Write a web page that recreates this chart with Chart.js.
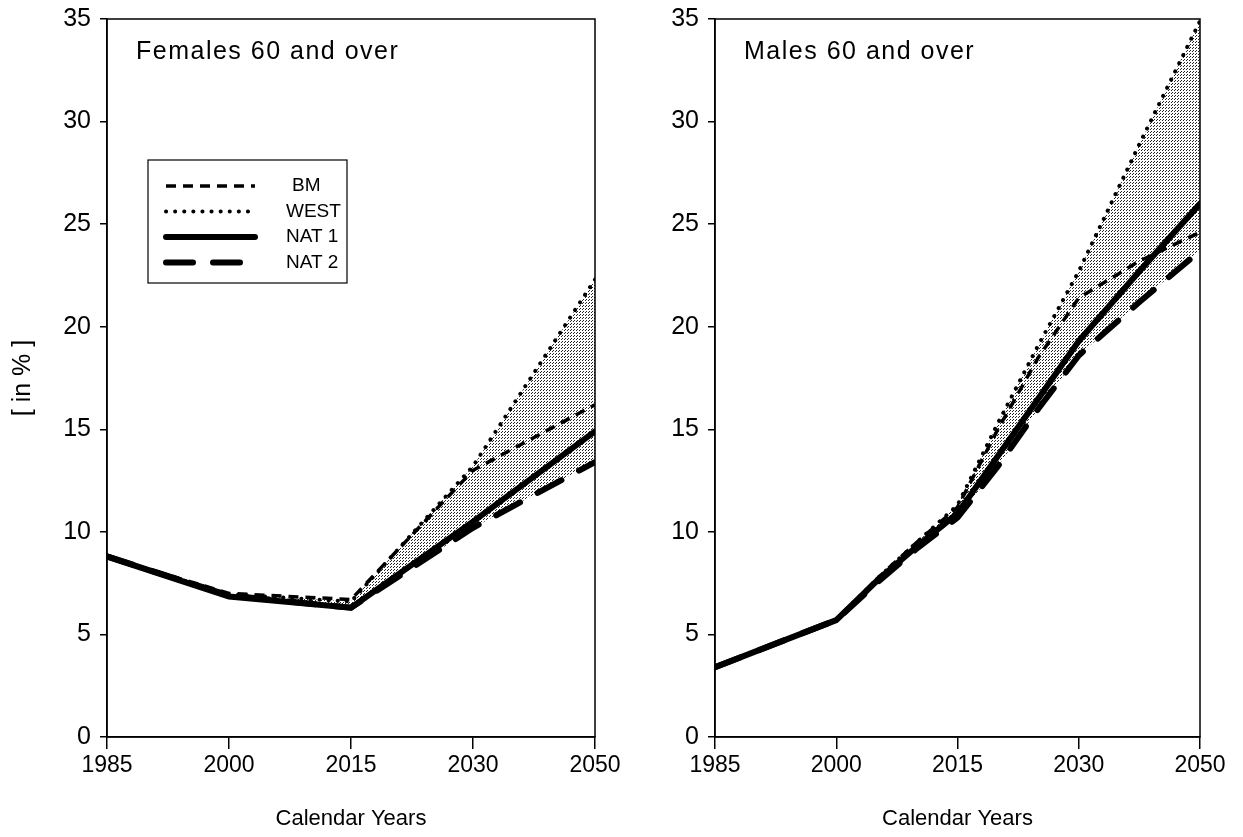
<!DOCTYPE html>
<html lang="en">
<head>
<meta charset="UTF-8">
<title>Population 60 and over</title>
<script src="https://cdn.jsdelivr.net/npm/chart.js"></script>
<style>
  html, body { margin: 0; padding: 0; background: #fff; }
  body { width: 1243px; height: 837px; position: relative; overflow: hidden; }
  canvas { position: absolute; top: 0; }
  #femaleChart { left: 0; }
  #maleChart { left: 640px; }
</style>
</head>
<body>
<canvas id="femaleChart" width="660" height="837"></canvas>
<canvas id="maleChart" width="603" height="837"></canvas>
<script>
// tick labels on the year axis (equally spaced in the original)
const tickYears = [1985, 2000, 2015, 2030, 2050];
const seriesNames = ['BM', 'WEST', 'NAT 1', 'NAT 2'];

// Females 60 and over, in %
const femaleYears = [1985, 2000, 2015, 2030, 2050];
const femaleBM   = [8.8, 7.0, 6.7, 13.0, 16.2];
const femaleWEST = [8.8, 6.95, 6.6, 13.2, 22.3];
const femaleNAT1 = [8.8, 6.85, 6.3, 10.5, 14.9];
const femaleNAT2 = [8.8, 6.9, 6.3, 10.2, 13.4];

// Males 60 and over, in %
const maleYears = [1985, 2000, 2005, 2010, 2015, 2020, 2025, 2030, 2040, 2050];
const maleBM   = [3.4, 5.7, 7.7, 9.5, 11.2, 15.0, 18.5, 21.4, 23.2, 24.6];
const maleWEST = [3.4, 5.7, 7.7, 9.5, 11.3, 15.3, 19.1, 22.7, 28.9, 34.9];
const maleNAT1 = [3.4, 5.7, 7.6, 9.3, 10.9, 13.7, 16.5, 19.3, 22.7, 26.0];
const maleNAT2 = [3.4, 5.7, 7.5, 9.2, 10.7, 13.2, 16.0, 18.6, 21.2, 23.7];

const FONT = '"Liberation Sans", Arial, sans-serif';

// year -> position on the evenly spaced axis
function yearToPos(year) {
  for (let i = 0; i < tickYears.length - 1; i++) {
    const a = tickYears[i], b = tickYears[i + 1];
    if (year <= b) return i + (year - a) / (b - a);
  }
  return tickYears.length - 1;
}
function toPoints(years, values) {
  return years.map((y, i) => ({ x: yearToPos(y), y: values[i] }));
}

// stipple pattern for the band between WEST and NAT 2
function makeStipple() {
  const c = document.createElement('canvas');
  c.width = 3; c.height = 3;
  const g = c.getContext('2d');
  g.fillStyle = '#222';
  g.fillRect(0, 0, 1, 1);
  g.fillRect(1, 2, 1, 1);
  return g.createPattern(c, 'repeat');
}

const lineStyles = [
  { borderWidth: 3.5, borderDash: [10, 7], borderCapStyle: 'butt' },
  { borderWidth: 4, borderDash: [0.1, 9], borderCapStyle: 'round' },
  { borderWidth: 6, borderDash: [], borderCapStyle: 'round' },
  { borderWidth: 6, borderDash: [27, 20], borderCapStyle: 'round' }
];

function makeDatasets(years, series) {
  const stipple = makeStipple();
  return series.map((vals, i) => Object.assign({
    label: seriesNames[i],
    data: toPoints(years, vals),
    borderColor: '#000',
    pointRadius: 0,
    tension: 0,
    fill: i === 1 ? { target: 3 } : false,
    backgroundColor: i === 1 ? stipple : 'transparent'
  }, lineStyles[i]));
}

// frame around the plot + panel caption + legend
const framePlugin = {
  id: 'frame',
  afterDatasetsDraw(chart, args, opts) {
    const ctx = chart.ctx;
    const a = chart.chartArea;
    ctx.save();
    ctx.strokeStyle = '#000';
    ctx.lineWidth = 1.5;
    ctx.strokeRect(a.left, a.top, a.right - a.left, a.bottom - a.top);

    ctx.fillStyle = '#000';
    ctx.font = '25px ' + FONT;
    ctx.letterSpacing = '1.5px';
    ctx.textBaseline = 'middle';
    ctx.textAlign = 'left';
    ctx.fillText(opts.caption, a.left + 29, a.top + 33);
    ctx.letterSpacing = '0px';

    if (opts.legend) {
      const x = a.left + 41, y = a.top + 141, w = 199, h = 123;
      ctx.fillStyle = '#fff';
      ctx.fillRect(x, y, w, h);
      ctx.lineWidth = 1.2;
      ctx.strokeRect(x, y, w, h);
      chart.data.datasets.forEach((ds, i) => {
        const ly = y + 26 + i * 25.5;
        ctx.beginPath();
        ctx.setLineDash(ds.borderDash);
        ctx.lineCap = ds.borderCapStyle;
        ctx.lineWidth = ds.borderWidth;
        ctx.moveTo(x + 18, ly);
        ctx.lineTo(x + 107, ly);
        ctx.stroke();
        ctx.setLineDash([]);
        ctx.fillStyle = '#000';
        ctx.font = '19px ' + FONT;
        ctx.fillText(ds.label, x + (i === 0 ? 144 : 138), ly);
      });
    }
    ctx.restore();
  }
};

function makeChart(id, years, series, caption, yWidth, padRight, showYTitle, showLegend) {
  return new Chart(document.getElementById(id), {
    type: 'line',
    data: { datasets: makeDatasets(years, series) },
    options: {
      responsive: false,
      animation: false,
      devicePixelRatio: 1,
      layout: { padding: { top: 19, right: padRight, bottom: 5, left: 0 } },
      plugins: {
        legend: { display: false },
        tooltip: { enabled: false },
        filler: { drawTime: 'beforeDatasetsDraw' },
        frame: { caption: caption, legend: showLegend }
      },
      scales: {
        x: {
          type: 'linear',
          min: 0,
          max: tickYears.length - 1,
          afterFit: s => { s.height = 95; },
          grid: { drawOnChartArea: false, drawTicks: true, tickLength: 12, color: '#000', lineWidth: 1.5 },
          border: { color: '#000', width: 1.5 },
          ticks: {
            stepSize: 1,
            autoSkip: false,
            maxRotation: 0,
            padding: 3,
            color: '#000',
            font: { family: FONT, size: 23 },
            callback: v => tickYears[v]
          },
          title: { display: true, text: 'Calendar Years', color: '#000', font: { family: FONT, size: 22 }, padding: 0 }
        },
        y: {
          min: 0,
          max: 35,
          afterFit: s => { s.width = yWidth; s.paddingTop = 0; s.paddingBottom = 0; },
          grid: { drawOnChartArea: false, drawTicks: true, tickLength: 7, color: '#000', lineWidth: 1.5 },
          border: { color: '#000', width: 1.5 },
          ticks: { stepSize: 5, padding: 9, color: '#000', font: { family: FONT, size: 25 } },
          title: { display: showYTitle, text: '[ in % ]', color: '#000', font: { family: FONT, size: 25 }, padding: { top: 8 } }
        }
      }
    },
    plugins: [framePlugin]
  });
}

makeChart('femaleChart', femaleYears, [femaleBM, femaleWEST, femaleNAT1, femaleNAT2],
  'Females 60 and over', 107, 65, true, true);
makeChart('maleChart', maleYears, [maleBM, maleWEST, maleNAT1, maleNAT2],
  'Males 60 and over', 75, 43, false, false);
</script>
</body>
</html>
